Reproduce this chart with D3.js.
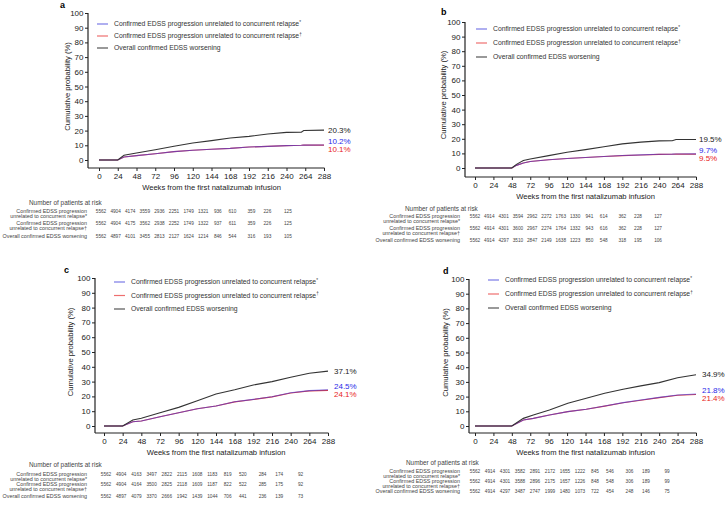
<!DOCTYPE html>
<html>
<head>
<meta charset="utf-8">
<script src="https://cdn.jsdelivr.net/npm/d3@7"></script>
<style>
  body { margin: 0; background: #fff; }
  svg { font-family: "Liberation Sans", Arial, sans-serif; }
</style>
</head>
<body>
<svg id="chart" width="726" height="508"></svg>
<script>
// tick labels and legend text
const xTicks = [0, 24, 48, 72, 96, 120, 144, 168, 192, 216, 240, 264, 288];
const yTicks = [0, 10, 20, 30, 40, 50, 60, 70, 80, 90, 100];
const legendLabels = [
  ['Confirmed EDSS progression unrelated to concurrent relapse', '*'],
  ['Confirmed EDSS progression unrelated to concurrent relapse', '\u2020'],
  ['Overall confirmed EDSS worsening', '']
];
const rowLabels = [
  ['Confirmed EDSS progression', 'unrelated to concurrent relapse*'],
  ['Confirmed EDSS progression', 'unrelated to concurrent relapse\u2020'],
  ['Overall confirmed EDSS worsening']
];

// panel a
const aWeeks   = [0, 24, 32, 48, 72, 96, 120, 144, 168, 192, 216, 240, 259, 262, 288];
const aOverall = [0, 0, 3.2, 4.8, 7.0, 9.3, 11.6, 13.2, 15.0, 16.1, 17.7, 18.8, 18.9, 20.1, 20.3];
const aBlue    = [0, 0, 2.0, 3.0, 4.3, 5.7, 6.6, 7.3, 7.9, 8.8, 9.3, 9.8, 10.0, 10.1, 10.2];
const aRed     = [0, 0, 2.0, 3.0, 4.3, 5.7, 6.6, 7.3, 7.9, 8.8, 9.3, 9.8, 10.0, 10.1, 10.1];
const aEnd     = ['20.3%', '10.2%', '10.1%'];
const aRisk = [
  [5562, 4904, 4174, 3559, 2936, 2251, 1749, 1321, 936, 610, 359, 226, 125],
  [5562, 4904, 4175, 3562, 2938, 2252, 1749, 1322, 937, 611, 359, 226, 125],
  [5562, 4897, 4101, 3455, 2813, 2127, 1624, 1214, 846, 544, 316, 193, 105]
];

// panel b
const bWeeks   = [0, 48, 54, 63, 72, 96, 120, 144, 168, 192, 216, 240, 257, 262, 288];
const bOverall = [0, 0, 2.5, 5.1, 6.2, 8.5, 10.8, 12.6, 14.5, 16.5, 17.7, 18.6, 18.7, 19.5, 19.5];
const bBlue    = [0, 0, 1.8, 3.4, 4.4, 5.6, 6.5, 7.2, 7.9, 8.6, 9.0, 9.4, 9.5, 9.6, 9.7];
const bRed     = [0, 0, 1.8, 3.4, 4.4, 5.6, 6.5, 7.2, 7.9, 8.5, 8.9, 9.3, 9.4, 9.5, 9.5];
const bEnd     = ['19.5%', '9.7%', '9.5%'];
const bRisk = [
  [5562, 4914, 4301, 3594, 2962, 2272, 1763, 1330, 941, 614, 362, 228, 127],
  [5562, 4914, 4301, 3600, 2967, 2274, 1764, 1332, 943, 616, 362, 228, 127],
  [5562, 4914, 4297, 3510, 2847, 2149, 1638, 1223, 850, 548, 318, 195, 106]
];

// panel c
const cWeeks   = [0, 24, 37, 48, 72, 96, 120, 144, 168, 192, 216, 240, 264, 288];
const cOverall = [0, 0, 4.0, 5.2, 9.0, 12.6, 17.1, 21.6, 24.5, 27.7, 30.0, 32.9, 35.6, 37.1];
const cBlue    = [0, 0, 2.9, 3.4, 6.3, 9.0, 11.7, 13.5, 16.4, 18.0, 19.8, 22.5, 23.9, 24.5];
const cRed     = [0, 0, 2.9, 3.4, 6.3, 9.0, 11.7, 13.5, 16.3, 17.9, 19.7, 22.3, 23.7, 24.1];
const cEnd     = ['37.1%', '24.5%', '24.1%'];
const cRisk = [
  [5562, 4904, 4163, 3497, 2822, 2115, 1608, 1183, 819, 520, 284, 174, 92],
  [5562, 4904, 4164, 3500, 2825, 2118, 1609, 1187, 822, 522, 285, 175, 92],
  [5562, 4897, 4079, 3370, 2666, 1942, 1439, 1044, 706, 441, 236, 139, 73]
];

// panel d
const dWeeks   = [0, 48, 63, 76, 97, 121, 145, 169, 193, 216, 240, 264, 288];
const dOverall = [0, 0, 5.2, 7.5, 10.9, 15.5, 18.9, 22.3, 25.0, 27.3, 29.5, 32.8, 34.9];
const dBlue    = [0, 0, 4.1, 5.2, 7.5, 9.8, 11.4, 13.6, 15.9, 17.7, 19.5, 21.1, 21.8];
const dRed     = [0, 0, 4.1, 5.2, 7.5, 9.8, 11.4, 13.5, 15.8, 17.5, 19.3, 20.9, 21.4];
const dEnd     = ['34.9%', '21.8%', '21.4%'];
const dRisk = [
  [5562, 4914, 4301, 3582, 2891, 2172, 1655, 1222, 845, 546, 306, 189, 99],
  [5562, 4914, 4301, 3588, 2896, 2175, 1657, 1226, 848, 548, 306, 189, 99],
  [5562, 4914, 4297, 3487, 2747, 1999, 1480, 1073, 722, 454, 248, 146, 75]
];

// column slots of the at-risk table (last three are spread out in the figure)
const colSlots = [0, 1, 2, 3, 4, 5, 6, 7, 8, 9, 10.3, 11.4, 12.8];

const panels = [
  { letter: 'a', letterX: 60, letterY: 8, axisX: 88, x0: 99, x1: 324, y0: 160, y1: 13, axisY: 168,
    titleX: 70, legX: 97, legY: 24, legDy: 12, endDx: 4,
    tabLabelX: 87, tabHeadX: 29, tabHeadY: 203, tabRows: [211, 223, 236], subDy: 5.5, tabX0: 101, tabStep: 14.6,
    weeks: aWeeks, series: [aOverall, aBlue, aRed], end: aEnd, risk: aRisk },
  { letter: 'b', letterX: 441, letterY: 15, axisX: 465, x0: 475, x1: 696, y0: 168, y1: 22, axisY: 177,
    titleX: 446, legX: 476, legY: 29, legDy: 14, endDx: 3,
    tabLabelX: 460, tabHeadX: 405, tabHeadY: 209, tabRows: [216, 228, 240], subDy: 5.5, tabX0: 475, tabStep: 14.3,
    weeks: bWeeks, series: [bOverall, bBlue, bRed], end: bEnd, risk: bRisk },
  { letter: 'c', letterX: 64, letterY: 273, axisX: 95, x0: 104, x1: 328, y0: 426, y1: 278, axisY: 433,
    titleX: 73, legX: 114, legY: 282, legDy: 13.5, endDx: 6,
    tabLabelX: 87, tabHeadX: 29, tabHeadY: 465, tabRows: [474, 484, 496], subDy: 5.5, tabX0: 106, tabStep: 15.2,
    weeks: cWeeks, series: [cOverall, cBlue, cRed], end: cEnd, risk: cRisk },
  { letter: 'd', letterX: 443, letterY: 274, axisX: 469, x0: 475, x1: 696, y0: 426, y1: 279, axisY: 433,
    titleX: 448, legX: 488, legY: 280, legDy: 14, endDx: 6,
    tabLabelX: 460, tabHeadX: 406, tabHeadY: 463, tabRows: [471, 481, 491], subDy: 4.8, tabX0: 475, tabStep: 15.0,
    weeks: dWeeks, series: [dOverall, dBlue, dRed], end: dEnd, risk: dRisk }
];

const lineColors = ['#333333', '#3b3be6', '#e23c3c'];
const legendColors = ['#7b7be6', '#ee6f6f', '#555555'];
const endColors = ['#222222', '#2a2ae8', '#e82424'];

const svg = d3.select('#chart');

panels.forEach((p) => {
  const g = svg.append('g');
  const x = d3.scaleLinear().domain([0, 288]).range([p.x0, p.x1]);
  const y = d3.scaleLinear().domain([0, 100]).range([p.y0, p.y1]);

  g.append('text')
    .attr('x', p.letterX).attr('y', p.letterY)
    .style('font-size', '9px').style('font-weight', 'bold')
    .text(p.letter);

  // y axis
  const yAxisG = g.append('g')
    .attr('transform', `translate(${p.axisX},0)`)
    .call(d3.axisLeft(y).tickValues(yTicks).tickSize(3).tickPadding(1.5));
  yAxisG.select('.domain').remove();
  yAxisG.selectAll('line').attr('stroke', '#222');
  yAxisG.selectAll('text').style('font-size', '8px').attr('fill', '#222')
    .style('font-family', '"Liberation Sans", Arial, sans-serif');
  g.append('line')
    .attr('x1', p.axisX).attr('x2', p.axisX)
    .attr('y1', p.y1).attr('y2', p.axisY)
    .attr('stroke', '#222').attr('stroke-width', 1.2);

  // x axis
  const xAxisG = g.append('g')
    .attr('transform', `translate(0,${p.axisY})`)
    .call(d3.axisBottom(x).tickValues(xTicks).tickSize(3).tickPadding(2));
  xAxisG.select('.domain').remove();
  xAxisG.selectAll('line').attr('stroke', '#222');
  xAxisG.selectAll('text').style('font-size', '8px').attr('fill', '#222')
    .style('font-family', '"Liberation Sans", Arial, sans-serif');
  g.append('line')
    .attr('x1', p.axisX).attr('x2', p.x1 + 0.5)
    .attr('y1', p.axisY).attr('y2', p.axisY)
    .attr('stroke', '#222').attr('stroke-width', 1.2);

  g.append('text')
    .attr('x', (p.x0 + p.x1) / 2).attr('y', p.axisY + 22)
    .attr('text-anchor', 'middle')
    .style('font-size', '7.6px').attr('fill', '#222')
    .text('Weeks from the first natalizumab infusion');

  g.append('text')
    .attr('transform', `translate(${p.titleX},${(p.y0 + p.y1) / 2}) rotate(-90)`)
    .attr('text-anchor', 'middle')
    .style('font-size', '7.6px').attr('fill', '#222')
    .text('Cumulative probability (%)');

  // curves: red first, blue on top (they overlap and read as purple), overall last
  const line = d3.line()
    .x((d) => x(d[0]))
    .y((d) => y(d[1]));
  [2, 1, 0].forEach((k) => {
    const pts = p.weeks.map((w, i) => [w, p.series[k][i]]);
    g.append('path')
      .attr('d', line(pts))
      .attr('fill', 'none')
      .attr('stroke', lineColors[k])
      .attr('stroke-width', 1.1)
      .attr('stroke-opacity', k === 1 ? 0.6 : 1);
  });

  // end-point labels
  const last = p.weeks.length - 1;
  const endY = [y(p.series[0][last]), y(p.series[1][last]) - 3.5, y(p.series[2][last]) + 4];
  p.end.forEach((t, k) => {
    g.append('text')
      .attr('x', p.x1 + p.endDx).attr('y', endY[k])
      .attr('dy', '0.35em')
      .style('font-size', '8px').attr('fill', endColors[k])
      .text(t);
  });

  // legend
  legendLabels.forEach((t, i) => {
    const ly = p.legY + i * p.legDy;
    g.append('line')
      .attr('x1', p.legX).attr('x2', p.legX + 11)
      .attr('y1', ly).attr('y2', ly)
      .attr('stroke', legendColors[i]).attr('stroke-width', 1.2);
    const txt = g.append('text')
      .attr('x', p.legX + 17).attr('y', ly + 2.4)
      .style('font-size', '6.8px').attr('fill', '#333');
    txt.append('tspan').text(t[0]);
    if (t[1]) {
      txt.append('tspan').attr('dy', -2.5).style('font-size', '4.6px').text(t[1]);
    }
  });

  // number at risk table
  g.append('text')
    .attr('x', p.tabHeadX).attr('y', p.tabHeadY).attr('dy', '0.35em')
    .style('font-size', '6.4px').attr('fill', '#444')
    .text('Number of patients at risk');
  p.risk.forEach((row, r) => {
    const ry = p.tabRows[r];
    rowLabels[r].forEach((lab, j) => {
      g.append('text')
        .attr('x', p.tabLabelX).attr('y', ry + j * p.subDy).attr('dy', '0.35em')
        .attr('text-anchor', 'end')
        .style('font-size', '5.4px').attr('fill', '#444')
        .text(lab);
    });
    row.forEach((v, c) => {
      g.append('text')
        .attr('x', p.tabX0 + colSlots[c] * p.tabStep).attr('y', ry).attr('dy', '0.35em')
        .attr('text-anchor', 'middle')
        .style('font-size', '4.7px').attr('fill', '#444')
        .text(v);
    });
  });
});
</script>
</body>
</html>
